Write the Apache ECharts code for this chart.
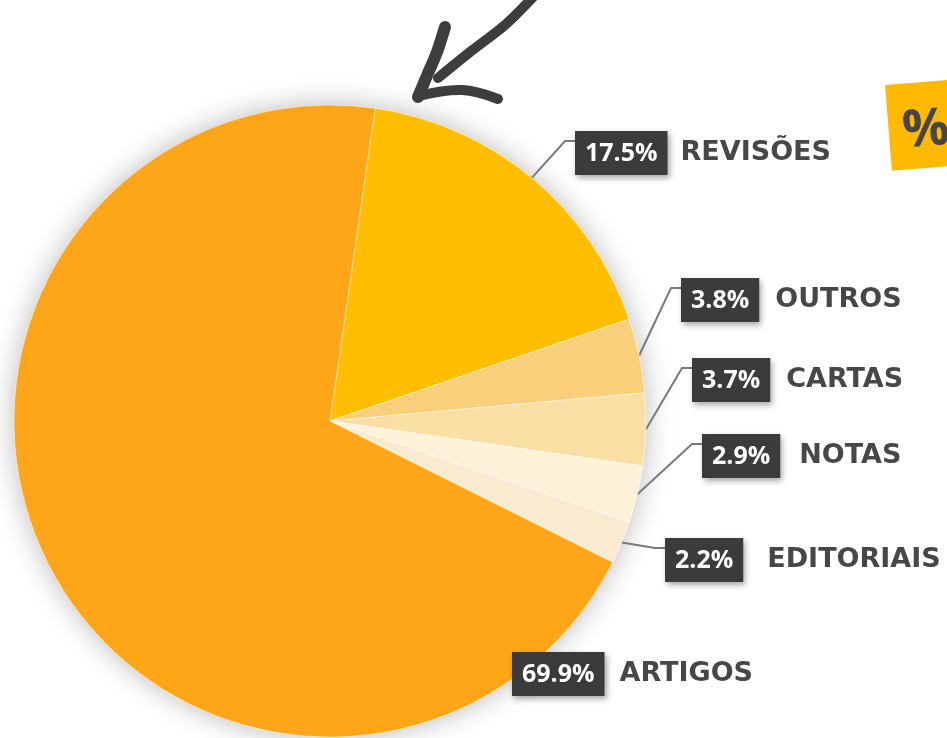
<!DOCTYPE html>
<html>
<head>
<meta charset="utf-8">
<style>
html,body{margin:0;padding:0;background:#ffffff;}
#chart{width:947px;height:738px;}
</style>
<script src="https://cdn.jsdelivr.net/npm/echarts@6/dist/echarts.min.js"></script>
</head>
<body>
<div id="chart"></div>
<script>
// ---- data ----
var categories = ['REVISÕES', 'OUTROS', 'CARTAS', 'NOTAS', 'EDITORIAIS', 'ARTIGOS'];
var values = [17.5, 3.8, 3.7, 2.9, 2.2, 69.9];

// ---- styles ----
var sliceColors = ['#FFBF00', '#F9CF7B', '#FADFA5', '#FEF1D9', '#F9EAD0', '#FEA617'];
// label box left x and centre y, per category
var labelPos = [[575, 153], [681, 300], [692, 380], [702, 456], [665, 560], [512, 674]];
var nameGap = [13, 16, 16, 19, 24, 15];
var pieCenter = [330, 421];
var pieRadius = 316;

var chart = echarts.init(document.getElementById('chart'), null, {renderer: 'canvas'});

var data = categories.map(function (c, i) {
  return {
    name: c,
    value: values[i],
    itemStyle: {color: sliceColors[i]},
    label: {
      rich: {
        name: {
          fontFamily: 'DejaVu Sans', fontWeight: 'bold', fontSize: 27,
          color: '#474747', padding: [0, 0, 0, nameGap[i]]
        }
      }
    },
    labelLine: {show: i !== categories.length - 1}
  };
});

var option = {
  backgroundColor: '#ffffff',
  animation: false,
  graphic: [
    // hand drawn arrow
    {type: 'polyline', z: 10, shape: {points: [[536, -6], [505, 25], [470, 52], [438, 78]], smooth: 0.3},
     style: {stroke: '#3d3d3d', lineWidth: 10, lineCap: 'round', lineJoin: 'round', fill: null}},
    {type: 'polyline', z: 10, shape: {points: [[445, 27], [437, 52], [426, 78], [418, 97]], smooth: 0.3},
     style: {stroke: '#3d3d3d', lineWidth: 12, lineCap: 'round', lineJoin: 'round', fill: null}},
    {type: 'polyline', z: 10, shape: {points: [[419, 96], [462, 90], [498, 99]], smooth: 0.4},
     style: {stroke: '#3d3d3d', lineWidth: 10, lineCap: 'round', lineJoin: 'round', fill: null}},
    // % tag
    {type: 'group', x: 885, y: 85, rotation: 4.6 * Math.PI / 180, z: 10, children: [
      {type: 'rect', shape: {x: 0, y: 0, width: 100, height: 86},
       style: {fill: '#FFBA00'}},
      {type: 'text', x: 37, y: 49, style: {text: '%', fontFamily: 'Open Sans', fontWeight: 'bold',
        fontSize: 52, fill: '#454545', align: 'center', verticalAlign: 'middle'}}
    ]}
  ],
  series: [
    {
      // soft shadow disc behind the pie
      type: 'pie', silent: true, center: pieCenter, radius: pieRadius,
      z: 1, label: {show: false}, labelLine: {show: false},
      itemStyle: {color: '#ffffff', shadowBlur: 28, shadowColor: 'rgba(0,0,0,0.28)'},
      data: [{value: values.reduce(function (a, b) { return a + b; }, 0)}]
    },
    {
      type: 'pie', z: 2, center: pieCenter, radius: pieRadius,
      startAngle: 81.8, clockwise: true, avoidLabelOverlap: false,
      itemStyle: {borderColor: 'rgba(255,255,255,0.55)', borderWidth: 0.8},
      label: {
        show: true, position: 'outside',
        formatter: function (p) { return '{box|' + p.value.toFixed(1) + '%}{name|' + p.name + '}'; },
        rich: {
          box: {
            fontFamily: 'Open Sans', fontWeight: 'bold', fontSize: 25, color: '#ffffff',
            backgroundColor: '#3b3b3b', padding: [10, 10, 9, 10], lineHeight: 27,
            shadowColor: 'rgba(0,0,0,0.35)', shadowBlur: 6, shadowOffsetX: 2, shadowOffsetY: 3
          },
          name: {fontFamily: 'DejaVu Sans', fontWeight: 'bold', fontSize: 27, color: '#474747'}
        }
      },
      labelLine: {show: true, lineStyle: {color: '#7a7a7a', width: 2}},
      labelLayout: function (params) {
        var i = params.dataIndex;
        var lx = labelPos[i][0], ly = labelPos[i][1];
        var res = {x: lx, y: ly, align: 'left', verticalAlign: 'middle'};
        if (params.labelLinePoints) {
          var p0 = params.labelLinePoints[0];
          res.labelLinePoints = [[p0[0], p0[1]], [lx - 10, ly - 12], [lx + 2, ly - 12]];
        }
        return res;
      },
      data: data
    }
  ]
};
chart.setOption(option);
</script>
</body>
</html>
